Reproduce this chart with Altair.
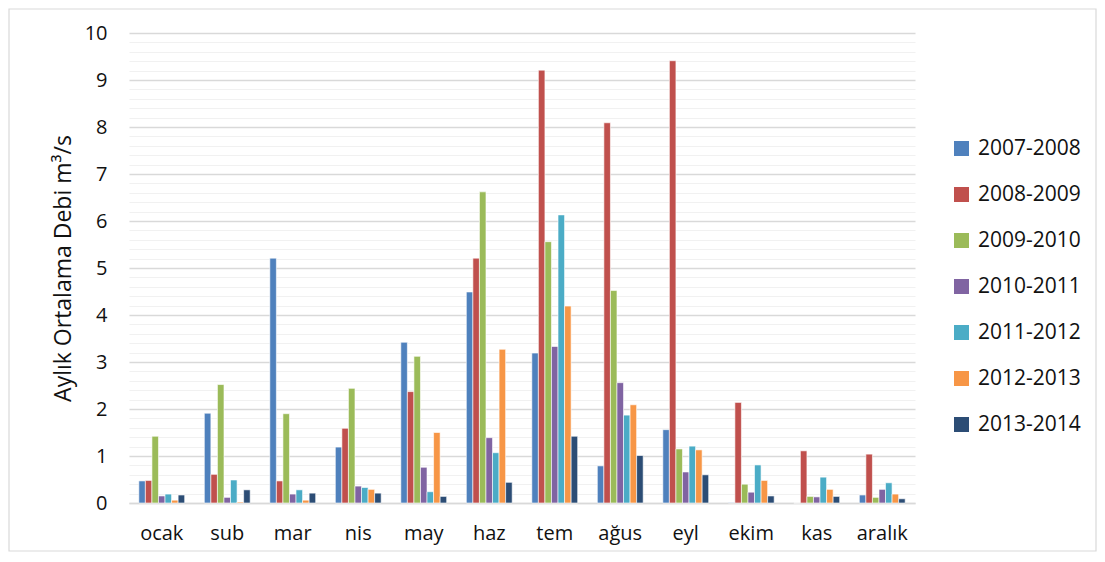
import altair as alt
import pandas as pd

months = ["ocak", "sub", "mar", "nis", "may", "haz", "tem", "ağus", "eyl", "ekim", "kas", "aralık"]
series = ["2007-2008", "2008-2009", "2009-2010", "2010-2011", "2011-2012", "2012-2013", "2013-2014"]

v_2007_2008 = [0.47, 1.91, 5.21, 1.19, 3.42, 4.49, 3.19, 0.79, 1.56, 0.01, 0.00, 0.17]
v_2008_2009 = [0.48, 0.61, 0.47, 1.59, 2.37, 5.21, 9.21, 8.09, 9.41, 2.14, 1.11, 1.04]
v_2009_2010 = [1.42, 2.52, 1.90, 2.44, 3.12, 6.62, 5.56, 4.52, 1.15, 0.40, 0.14, 0.12]
v_2010_2011 = [0.15, 0.12, 0.19, 0.36, 0.76, 1.39, 3.33, 2.56, 0.66, 0.23, 0.13, 0.29]
v_2011_2012 = [0.19, 0.49, 0.28, 0.33, 0.24, 1.07, 6.13, 1.87, 1.21, 0.81, 0.55, 0.43]
v_2012_2013 = [0.06, 0.02, 0.06, 0.29, 1.50, 3.27, 4.19, 2.09, 1.13, 0.48, 0.29, 0.19]
v_2013_2014 = [0.17, 0.28, 0.21, 0.21, 0.14, 0.44, 1.42, 1.01, 0.60, 0.15, 0.14, 0.09]

colors = ["#4F81BD", "#C0504D", "#9BBB59", "#8064A2", "#4BACC6", "#F79646", "#2C4D75"]

# y-axis tick positions (major every 1, minor every 0.2)
y_ticks = [round(i * 0.2, 1) for i in range(51)]

all_values = [v_2007_2008, v_2008_2009, v_2009_2010, v_2010_2011,
              v_2011_2012, v_2012_2013, v_2013_2014]
rows = []
for s, vals in zip(series, all_values):
    for m, v in zip(months, vals):
        rows.append({"month": m, "series": s, "value": v})
df = pd.DataFrame(rows)

# light chart-area frame (decoration, like the spreadsheet chart border)
frame = alt.Chart(alt.Data(values=[{}])).mark_rect(
    fill=None, stroke="#d9d9d9", strokeWidth=1.2
).encode(
    x=alt.value(-120), x2=alt.value(967), y=alt.value(-24), y2=alt.value(518)
)

bars = alt.Chart(df).mark_bar(stroke="white", strokeWidth=0.6).encode(
    x=alt.X(
        "month:N", sort=months,
        scale=alt.Scale(paddingInner=0.3, paddingOuter=0.15),
        axis=alt.Axis(title=None, labelAngle=0, labelFontSize=20, labelPadding=20,
                      ticks=False, grid=False, domainColor="#d9d9d9", domainWidth=1.5,
                      labelColor="#111111"),
    ),
    xOffset=alt.XOffset("series:N", sort=series),
    y=alt.Y(
        "value:Q",
        scale=alt.Scale(domain=[0, 10], nice=False),
        axis=alt.Axis(
            title="Aylık Ortalama Debi m³/s", titleFontSize=23, titleFontWeight="normal",
            titleColor="#111111", titlePadding=9,
            values=y_ticks, labelOverlap=False, labelFlush=False,
            labelExpr="datum.value % 1 === 0 ? format(datum.value, 'd') : ''",
            labelFontSize=20, labelPadding=22, labelColor="#111111",
            ticks=False, domain=False,
            gridColor={"condition": {"test": "datum.value % 1 === 0", "value": "#d9d9d9"},
                       "value": "#f1f1f1"},
            gridWidth={"condition": {"test": "datum.value % 1 === 0", "value": 1.5},
                       "value": 1.2},
        ),
    ),
    color=alt.Color(
        "series:N", sort=series,
        scale=alt.Scale(domain=series, range=colors),
        legend=alt.Legend(title=None, orient="none", legendX=822, legendY=105,
                          symbolType="square", symbolSize=225, symbolStrokeWidth=0,
                          labelFontSize=21, labelColor="#111111", labelOffset=6,
                          rowPadding=24, padding=0),
    ),
)

chart = alt.layer(frame, bars).properties(
    width=786, height=470,
    autosize=alt.AutoSizeParams(type="none"),
    padding={"left": 121, "top": 25, "right": 182, "bottom": 50},
).configure(font="Open Sans").configure_view(stroke=None)

chart.save("out.html", embed_options={"renderer": "svg", "actions": False})
